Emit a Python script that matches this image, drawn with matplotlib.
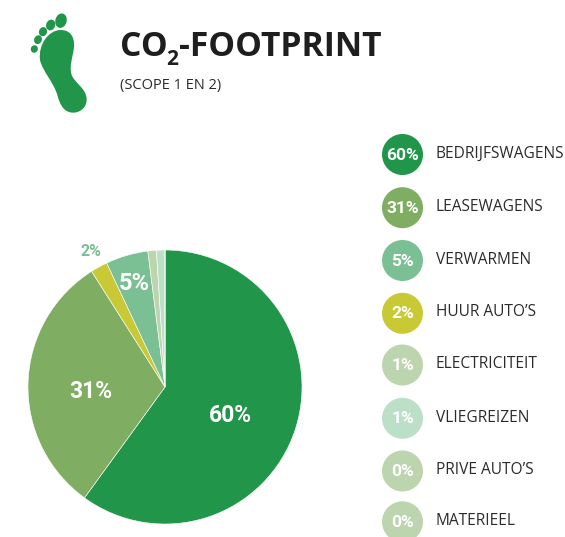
import matplotlib
matplotlib.use("Agg")
import matplotlib.pyplot as plt
from matplotlib.patches import Circle, Ellipse, PathPatch
from matplotlib.path import Path

W, H = 565, 537
categories = ["BEDRIJFSWAGENS", "LEASEWAGENS", "VERWARMEN", "HUUR AUTO\u2019S",
              "ELECTRICITEIT", "VLIEGREIZEN", "PRIVE AUTO\u2019S", "MATERIEEL"]
values = [60, 31, 5, 2, 1, 1, 0, 0]
colors = ["#21964A", "#7FAD61", "#7BBF94", "#C9C936", "#BDD5AE", "#BCDFC8", "#BDD5AE", "#BDD5AE"]
pie_order = [0, 1, 3, 2, 4, 5, 6, 7]
legend_y = [154.5, 207.7, 260.5, 313.3, 365, 418.3, 471, 521.8]

sans = "Open Sans"
dark = "#2B2B2B"

fig = plt.figure(figsize=(W / 100, H / 100), dpi=100, facecolor="white")
ax = fig.add_axes([0, 0, 1, 1])
Y = lambda y: H - y


def cond(x, y, s, color, fs):
    ax.text(x, Y(y), s, color=color, fontsize=fs, ha="center", va="center",
            family="Roboto", weight=700)


# pie
ax.pie([values[i] for i in pie_order], colors=[colors[i] for i in pie_order],
       center=(165, Y(387)), radius=137, startangle=90, counterclock=False,
       wedgeprops=dict(linewidth=0.4, edgecolor="white"), frame=True)
ax.set_xlim(0, W)
ax.set_ylim(0, H)
ax.set_aspect("equal")
ax.axis("off")

for (x, y, s, c, fs) in [(230, 416, "60%", "white", 16.5), (91, 391, "31%", "white", 16.5),
                         (134.5, 284, "5%", "white", 17), (91, 252, "2%", colors[2], 11.5)]:
    cond(x, y, s, c, fs)

# legend
for cat, val, col, y in zip(categories, values, colors, legend_y):
    ax.add_patch(Circle((402.5, Y(y)), 20.5, fc=col, ec="none"))
    cond(402.5, y + 0.5, f"{val}%", "white", 12.5)
    ax.text(435.5, Y(y - 0.8), cat, color=dark, fontsize=11.2, family=sans, ha="left", va="center", clip_on=True)

# title
ax.text(120, Y(56), "CO", color="#1E1E1E", fontsize=24.2, family=sans, weight=700, ha="left", va="baseline")
ax.text(166.5, Y(65), "2", color="#1E1E1E", fontsize=15, family=sans, weight=700, ha="left", va="baseline")
ax.text(179, Y(56), "-FOOTPRINT", color="#1E1E1E", fontsize=24.2, family=sans, weight=700, ha="left", va="baseline")
ax.text(120, Y(89), "(SCOPE 1 EN 2)", color=dark, fontsize=10.5, family=sans, ha="left", va="baseline")

# footprint icon
green = colors[0]
P = lambda x, y: (x / 3, Y(y / 3))
verts = [P(182, 90), P(212, 90), P(224, 112), P(222, 140),
         P(220, 170), P(206, 195), P(215, 225),
         P(225, 250), P(259, 265), P(260, 298),
         P(260, 325), P(238, 338), P(220, 338),
         P(192, 338), P(180, 315), P(172, 285),
         P(160, 245), P(128, 215), P(120, 180),
         P(114, 135), P(145, 90), P(182, 90)]
codes = [Path.MOVETO] + [Path.CURVE4] * 21
ax.add_patch(PathPatch(Path(verts, codes), fc=green, ec="none"))
for (x, y, w, h, a) in [(183, 62, 34, 44, 15), (152, 75, 27, 33, 20), (129, 95, 24, 28, 20),
                        (114, 119, 23, 27, 25), (103, 147, 21, 23, 25)]:
    ax.add_patch(Ellipse(P(x, y), w / 3, h / 3, angle=-a, fc=green, ec="none"))

fig.savefig("out.png", dpi=100, facecolor="white")
